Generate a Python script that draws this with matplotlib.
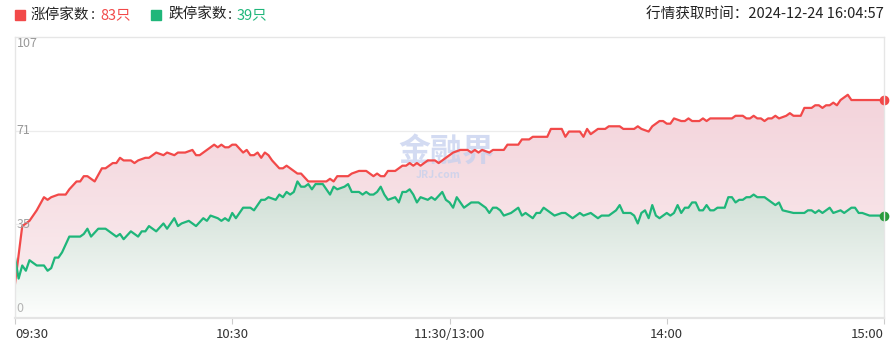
import numpy as np
import matplotlib
matplotlib.use("Agg")
import matplotlib.pyplot as plt
from matplotlib.patches import Polygon, Rectangle
from matplotlib import transforms

plt.rcParams["font.family"] = ["Noto Sans CJK SC", "DejaVu Sans"]

# minutes since 09:30 (trading minutes, lunch break skipped) and counts
up_minutes = [0, 2, 3, 4, 6, 8, 9, 10, 12, 14, 15, 17, 18, 19, 20, 22, 24, 25, 27, 28,
              29, 30, 32, 33, 34, 36, 37, 39, 41, 42, 44, 45, 47, 49, 50, 51, 53, 55, 56, 57,
              58, 59, 60, 61, 63, 64, 65, 66, 67, 68, 69, 70, 71, 73, 74, 75, 76, 78, 79, 81,
              83, 86, 87, 88, 89, 92, 93, 95, 97, 98, 99, 100, 101, 102, 103, 105, 107, 108, 109, 110,
              111, 112, 113, 114, 116, 117, 119, 120, 121, 123, 125, 126, 127, 128, 129, 131, 132, 135, 136, 139,
              140, 142, 143, 147, 148, 151, 152, 153, 156, 157, 158, 159, 161, 163, 164, 167, 168, 171, 172, 173,
              175, 176, 178, 179, 180, 181, 182, 184, 185, 186, 187, 189, 190, 191, 192, 198, 199, 201, 202, 203,
              204, 205, 206, 207, 208, 209, 210, 211, 213, 214, 215, 217, 218, 220, 221, 222, 223, 224, 225, 226,
              227, 228, 229, 230, 231, 240]
up_values = [13, 35, 36, 37, 41, 46, 45, 46, 47, 47, 49, 52, 52, 54, 54, 52, 57, 57, 59, 59,
             61, 60, 60, 59, 60, 61, 61, 63, 62, 63, 62, 63, 63, 64, 62, 62, 64, 66, 65, 66,
             65, 65, 66, 66, 63, 64, 62, 62, 63, 61, 63, 62, 60, 57, 57, 58, 57, 55, 55, 52,
             52, 52, 53, 52, 54, 54, 55, 56, 56, 55, 54, 55, 54, 54, 56, 56, 58, 58, 59, 58,
             59, 58, 59, 60, 60, 59, 61, 62, 63, 64, 64, 63, 64, 63, 64, 63, 64, 64, 66, 66,
             68, 68, 69, 69, 72, 72, 69, 71, 71, 69, 72, 70, 72, 72, 73, 73, 72, 72, 73, 72,
             71, 73, 75, 75, 74, 74, 76, 75, 75, 76, 75, 75, 76, 75, 76, 76, 77, 77, 76, 76,
             77, 76, 76, 75, 76, 76, 77, 76, 77, 78, 77, 77, 80, 80, 81, 81, 80, 81, 81, 82,
             81, 83, 84, 85, 83, 83]

down_minutes = [0, 1, 2, 3, 4, 6, 8, 9, 10, 11, 12, 13, 15, 18, 19, 20, 21, 23, 25, 28,
                29, 30, 32, 34, 35, 36, 37, 39, 41, 42, 44, 45, 46, 48, 50, 52, 53, 54, 56, 57,
                58, 59, 60, 61, 62, 63, 65, 66, 68, 69, 70, 72, 73, 74, 75, 76, 77, 78, 79, 80,
                81, 82, 83, 85, 86, 87, 88, 89, 91, 92, 93, 95, 96, 97, 98, 99, 100, 101, 102, 103,
                105, 106, 107, 108, 109, 110, 111, 112, 114, 115, 116, 118, 119, 120, 121, 122, 123, 124, 126, 128,
                130, 131, 132, 133, 134, 135, 137, 138, 139, 140, 141, 143, 144, 145, 146, 148, 149, 151, 152, 154,
                156, 157, 159, 161, 162, 164, 166, 167, 168, 170, 171, 172, 173, 174, 175, 176, 177, 178, 180, 181,
                182, 183, 184, 185, 186, 187, 188, 189, 190, 191, 192, 193, 194, 196, 197, 198, 199, 200, 201, 202,
                203, 204, 205, 207, 208, 210, 211, 212, 215, 218, 219, 220, 221, 222, 223, 225, 226, 228, 229, 231,
                232, 233, 234, 236, 240]
down_values = [23, 15, 20, 18, 22, 20, 20, 18, 19, 23, 23, 25, 31, 31, 32, 34, 31, 34, 34, 31,
               32, 30, 33, 31, 33, 33, 35, 33, 36, 34, 38, 35, 36, 37, 35, 38, 37, 39, 38, 37,
               38, 37, 40, 38, 40, 42, 42, 41, 45, 45, 46, 45, 47, 46, 48, 47, 48, 52, 50, 50,
               51, 49, 51, 51, 49, 47, 50, 49, 50, 51, 48, 48, 47, 48, 47, 47, 48, 50, 47, 45,
               46, 44, 48, 48, 49, 47, 44, 46, 45, 46, 45, 48, 45, 44, 42, 46, 44, 42, 44, 44,
               42, 40, 42, 42, 41, 39, 40, 41, 42, 39, 40, 38, 40, 40, 42, 40, 39, 40, 40, 38,
               40, 39, 40, 38, 39, 39, 41, 43, 40, 40, 39, 36, 40, 41, 38, 43, 39, 38, 40, 39,
               40, 43, 40, 42, 42, 44, 44, 41, 41, 43, 41, 41, 42, 42, 46, 46, 44, 45, 45, 46,
               46, 47, 46, 46, 45, 43, 44, 41, 40, 40, 41, 41, 40, 41, 40, 42, 40, 41, 40, 42,
               42, 40, 40, 39, 39]

up_count = 83
down_count = 39
fetch_time = "2024-12-24 16:04:57"

x_tick_pos = [0, 60, 120, 180, 240]
x_tick_labels = ["09:30", "10:30", "11:30/13:00", "14:00", "15:00"]
y_tick_pos = [0, 107 / 3, 214 / 3, 107]
y_tick_labels = ["0", "35", "71", "107"]

RED = "#f24949"
GREEN = "#1fb67a"


def gradient_fill(ax, x, y, top_rgb, bottom_rgb, y_top, zorder):
    """Fill under a line with a vertical colour gradient, clipped to the area."""
    n = 256
    t = np.linspace(1, 0, n)[:, None]
    top = np.array(top_rgb) / 255.0
    bot = np.array(bottom_rgb) / 255.0
    img = (bot + (top - bot) * t)[:, None, :].repeat(2, axis=1)
    verts = [(x[0], 0)] + list(zip(x, y)) + [(x[-1], 0)]
    poly = Polygon(verts, closed=True, facecolor="none", edgecolor="none")
    ax.add_patch(poly)
    im = ax.imshow(img, extent=[x[0], x[-1], 0, y_top], aspect="auto",
                   origin="upper", zorder=zorder, interpolation="bilinear")
    im.set_clip_path(poly)


def main():
    fig = plt.figure(figsize=(8.96, 3.51), dpi=100)
    ax = fig.add_axes([15 / 896, 1 - 318 / 351, 869 / 896, 281 / 351])

    # shaded areas
    gradient_fill(ax, up_minutes, up_values, (241, 204, 213), (251, 239, 241), 107, 1)
    gradient_fill(ax, down_minutes, down_values, (205, 221, 211), (253, 254, 253), 52, 2)

    # watermark
    ax.text(119, 63.5, "金融界", ha="center", va="center", fontsize=23, fontweight="bold",
            color="#c5d0ee", alpha=0.75, zorder=3)
    ax.text(117, 54.5, "JRJ.com", ha="center", va="center", fontsize=7.5, fontweight="bold",
            color="#c5d0ee", alpha=0.75, zorder=3)

    # lines
    ax.plot(up_minutes, up_values, color=RED, lw=1.6, zorder=5)
    ax.plot(down_minutes, down_values, color=GREEN, lw=1.6, zorder=5)
    ax.plot(up_minutes[-1], up_values[-1], "o", color=RED, ms=6, zorder=6, clip_on=False)
    ax.plot(down_minutes[-1], down_values[-1], "o", color="#2a9a3c", ms=6, zorder=6, clip_on=False)

    ax.set_xlim(0, 240)
    ax.set_ylim(0, 107)

    # grid
    for yv in y_tick_pos[1:3]:
        ax.axhline(yv, color="#ececec", lw=0.9, zorder=0.5)
    for s in ["left", "right", "top"]:
        ax.spines[s].set_color("#e6e6e6")
        ax.spines[s].set_linewidth(1.0)
    ax.spines["bottom"].set_color("#e4e4e4")
    ax.spines["bottom"].set_linewidth(1.6)
    for sp in ax.spines.values():
        sp.set_zorder(7)

    # y labels drawn inside the plot
    trans = transforms.blended_transform_factory(ax.transAxes, ax.transData)
    vas = ["bottom", "center", "center", "top"]
    cols = ["#b5b5b5", "#a0a0a0", "#999999", "#999999"]
    for yv, lab, va, c in zip(y_tick_pos, y_tick_labels, vas, cols):
        ax.text(0.002, yv + (1.2 if va == "bottom" else 0), lab, transform=trans,
                ha="left", va=va, fontsize=9, color=c, zorder=8)
    ax.set_yticks([])

    ax.set_xticks(x_tick_pos)
    ax.set_xticklabels(x_tick_labels, fontsize=9.5, color="#333333")
    ax.tick_params(axis="x", length=4, color="#cccccc", pad=3)
    labels = ax.get_xticklabels()
    labels[0].set_ha("left")
    labels[-1].set_ha("right")

    # header
    fig.patches.append(Rectangle((15 / 896, 1 - 20 / 351), 10 / 896, 10 / 351,
                                 transform=fig.transFigure, color=RED))
    fig.patches.append(Rectangle((151 / 896, 1 - 20 / 351), 10 / 896, 10 / 351,
                                 transform=fig.transFigure, color=GREEN))
    hy = 1 - 15 / 351
    header = [("涨停家数", 31, "#222222"), (":", 91, "#222222"), (f"{up_count}只", 100, RED),
              ("跌停家数", 168, "#222222"), (":", 228, "#222222"), (f"{down_count}只", 237, GREEN)]
    for s, xp, c in header:
        fig.text(xp / 896, hy, s, fontsize=10.5, color=c, va="center")
    fig.text(884 / 896, hy, f"行情获取时间：{fetch_time}", fontsize=10.5,
             color="#222222", va="center", ha="right")

    fig.savefig("out.png", dpi=100)
    plt.close(fig)


if __name__ == "__main__":
    main()
